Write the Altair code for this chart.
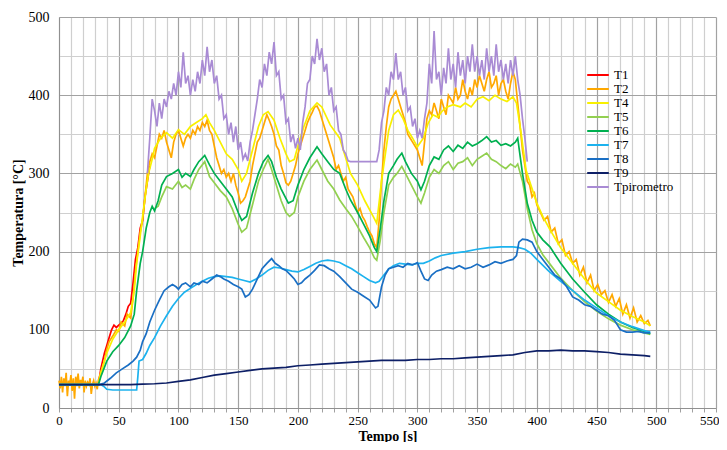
import altair as alt
import pandas as pd

# ---------------- data ----------------
SERIES = ["T1", "T2", "T4", "T5", "T6", "T7", "T8", "T9", "Tpirometro"]
COLORS = ["#FF0000", "#FFA800", "#F8F000", "#92D050", "#00B050",
          "#1CB2EE", "#1A6FC4", "#0D1F66", "#A98BD4"]

t1_t = [0, 33, 35, 38, 40, 42, 44, 46, 48, 50, 52, 54, 56, 58, 60, 62, 64, 66, 68, 70, 72, 74, 76]
t1_v = [30, 30, 50, 70, 80, 90, 100, 106, 103, 106, 108, 112, 120, 130, 134, 160, 190, 205, 230, 240, 270, 290, 310]

t2_t = list(range(0, 34)) + [35, 38, 40, 42, 45, 48, 50, 52, 55, 57, 60, 62, 64, 66, 68, 70, 72, 74, 76, 78,
       80, 82, 84, 86, 88, 90, 92, 94, 96, 98, 100, 102, 104, 106, 108, 110, 112, 114, 116, 118,
       120, 122, 124, 126, 128, 130, 132, 134, 136, 138, 140, 142, 144, 146, 148, 150, 152, 154, 156, 158,
       160, 162, 164, 166, 168, 170, 172, 174, 176, 178, 180, 182, 184, 186, 188, 190, 192, 194, 196, 198,
       200, 202, 204, 206, 208, 210, 212, 214, 216, 218, 220, 222, 224, 226, 228, 230, 232, 234, 236, 238,
       240, 242, 244, 246, 248, 250, 252, 254, 256, 258, 260, 262, 264, 266, 268, 270, 272, 274, 276, 278,
       280, 282, 284, 286, 288, 290, 292, 294, 296, 298, 300, 302, 304, 306, 308, 310, 312, 314, 316, 318,
       320, 322, 324, 326, 328, 330, 332, 334, 336, 338, 340, 342, 344, 346, 348, 350, 352, 354, 356, 358,
       360, 362, 364, 366, 368, 370, 372, 374, 376, 378, 380, 382, 384, 386, 388, 390, 392, 394, 396, 398,
       400, 403, 406, 409, 412, 415, 418, 421, 424, 427, 430, 433, 436, 439, 442, 445, 448, 451, 454, 457,
       460, 463, 466, 469, 472, 475, 478, 481, 484, 487, 490, 493, 495]
t2_v = [35, 25, 40, 20, 38, 28, 45, 15, 35, 30, 42, 22, 38, 12, 40, 28, 44, 25, 36, 30, 40, 20, 35, 28,
        33, 30, 38, 18, 30, 35, 28, 32, 24, 36] + [45, 60, 75, 85, 92, 100, 98, 110, 105, 120, 115, 140, 175, 200, 225, 240, 270, 300, 315, 325,
        320, 335, 350, 345, 355, 340, 330, 320, 340, 350, 355, 345, 335, 345, 350, 345, 355, 350, 360, 355,
        365, 360, 368, 355, 350, 335, 320, 310, 300, 305, 295, 300, 290, 300, 285, 275, 262, 265, 270, 280,
        290, 310, 325, 340, 345, 355, 365, 375, 368, 360, 350, 335, 330, 310, 300, 288, 285, 290, 300, 310,
        325, 335, 345, 355, 365, 372, 378, 385, 386, 380, 370, 360, 350, 340, 330, 320, 305, 310, 300, 290,
        295, 280, 275, 270, 260, 250, 255, 245, 240, 232, 225, 220, 210, 205, 240, 290, 330, 360, 385, 395,
        400, 405, 395, 385, 375, 365, 350, 345, 340, 335, 330, 320, 310, 340, 370, 380, 375, 390, 380, 370,
        395, 385, 375, 400, 395, 390, 410, 395, 400, 420, 405, 395, 410, 400, 420, 410, 425, 415, 405, 420,
        430, 410, 415, 425, 400, 415, 420, 405, 395, 415, 430, 420, 390, 360, 330, 310, 290, 285, 270, 275,
        260, 250, 240, 245, 225, 230, 210, 215, 195, 200, 185, 190, 170, 180, 160, 170, 150, 158, 145, 150,
        135, 145, 130, 140, 120, 132, 115, 128, 110, 118, 108, 112, 105]

t4_t = [0, 33, 35, 40, 45, 50, 55, 60, 63, 65, 68, 70, 73, 75, 78, 80, 85, 90, 95, 100, 105, 110, 115, 120,
        123, 126, 130, 135, 140, 145, 150, 153, 157, 162, 167, 171, 175, 180, 185, 190, 193, 197, 200, 205,
        210, 216, 220, 227, 235, 244, 250, 256, 263, 266, 270, 276, 280, 284, 288, 292, 296, 300, 305, 309,
        313, 317, 321, 325, 330, 336, 340, 345, 350, 355, 360, 365, 370, 375, 380, 383, 387, 391, 395, 400,
        405, 411, 420, 430, 440, 450, 460, 470, 480, 490, 495]
t4_v = [30, 30, 45, 70, 88, 100, 110, 122, 150, 185, 220, 245, 280, 300, 318, 332, 345, 352, 345, 356, 350,
        360, 365, 370, 375, 365, 355, 340, 325, 318, 305, 290, 300, 330, 360, 375, 379, 368, 345, 325, 315,
        318, 335, 360, 380, 390, 385, 362, 345, 300, 285, 265, 245, 236, 290, 355, 375, 381, 370, 355, 345,
        334, 345, 364, 375, 372, 380, 385, 388, 385, 390, 385, 395, 398, 393, 400, 395, 392, 398, 390, 350,
        304, 285, 262, 245, 228, 205, 185, 165, 147, 136, 125, 117, 110, 105]

t5_t = [80, 83, 86, 90, 95, 100, 103, 106, 110, 113, 117, 122, 126, 130, 135, 140, 145, 150, 153, 157,
        162, 167, 171, 175, 178, 182, 186, 190, 193, 197, 200, 205, 210, 216, 220, 225, 230, 235, 240, 245,
        250, 255, 260, 264, 266, 269, 272, 276, 280, 283, 287, 290, 295, 300, 303, 306, 310, 314, 318, 322,
        326, 330, 334, 338, 342, 346, 350, 354, 358, 362, 366, 370, 374, 378, 382, 384, 388, 392, 396, 400,
        405, 411, 420, 430, 440, 450, 460, 470, 480, 490, 495]
t5_v = [255, 258, 270, 283, 280, 290, 282, 285, 280, 292, 305, 315, 296, 288, 278, 270, 255, 235, 225, 230,
        260, 290, 305, 318, 305, 285, 265, 250, 245, 250, 270, 290, 305, 317, 305, 290, 280, 266, 255, 245,
        232, 218, 205, 192, 189, 215, 250, 285, 295, 300, 309, 300, 285, 270, 262, 275, 295, 305, 300, 310,
        315, 305, 313, 315, 320, 310, 318, 322, 326, 318, 315, 310, 306, 312, 308, 312, 290, 255, 228, 210,
        196, 184, 166, 150, 136, 124, 114, 106, 100, 96, 94]

t6_t = [0, 33, 35, 40, 45, 50, 55, 60, 63, 65, 68, 70, 73, 76, 78, 80, 83, 86, 90, 95, 100, 103, 106, 110,
        113, 117, 122, 126, 130, 135, 140, 145, 150, 153, 157, 162, 167, 171, 175, 178, 182, 186, 192, 196,
        200, 205, 210, 216, 220, 225, 230, 235, 240, 244, 250, 255, 260, 264, 266, 269, 272, 276, 280, 283,
        287, 290, 295, 300, 303, 306, 310, 314, 318, 322, 326, 330, 334, 338, 342, 346, 350, 354, 358, 362,
        366, 370, 374, 378, 382, 384, 388, 392, 396, 400, 405, 411, 420, 430, 440, 450, 460, 470, 480, 490, 495]
t6_v = [30, 30, 40, 60, 72, 80, 90, 105, 120, 150, 185, 200, 230, 250, 258, 252, 265, 285, 296, 300, 305,
        295, 300, 296, 305, 315, 323, 311, 300, 290, 280, 270, 250, 240, 245, 275, 300, 315, 323, 315, 295,
        280, 262, 265, 285, 305, 320, 334, 325, 315, 305, 300, 280, 266, 250, 235, 220, 205, 200, 230, 265,
        300, 310, 318, 326, 315, 300, 290, 279, 290, 310, 321, 318, 330, 335, 328, 336, 332, 340, 335, 338,
        342, 347, 340, 342, 336, 338, 335, 340, 345, 300, 262, 240, 225, 215, 206, 185, 165, 148, 132, 120,
        110, 103, 98, 95]

t7_t = [0, 35, 38, 40, 45, 50, 55, 60, 65, 66, 67, 70, 73, 76, 80, 85, 90, 95, 100, 105, 110, 115, 120, 125,
        130, 135, 140, 145, 150, 155, 160, 165, 170, 175, 180, 185, 190, 195, 200, 205, 210, 215, 220, 225,
        230, 235, 240, 245, 250, 255, 260, 265, 268, 272, 276, 280, 285, 290, 295, 300, 305, 310, 315, 320,
        330, 340, 350, 360, 370, 380, 385, 390, 395, 400, 410, 420, 430, 440, 450, 460, 470, 480, 490, 495]
t7_v = [30, 30, 27, 24, 23, 23, 23, 23, 23, 40, 60, 62, 70, 80, 90, 105, 118, 130, 140, 148, 153, 158, 162,
        166, 168, 169, 168, 167, 165, 163, 161, 165, 170, 176, 180, 179, 177, 175, 174, 177, 181, 185, 188,
        189, 188, 186, 182, 178, 173, 168, 163, 160, 162, 170, 178, 182, 185, 184, 183, 185, 185, 188, 192,
        195, 198, 200, 203, 205, 206, 206, 205, 203, 198, 190, 175, 162, 150, 138, 128, 118, 110, 104, 99, 97]

t8_t = [0, 34, 38, 43, 48, 53, 58, 62, 65, 68, 70, 73, 76, 80, 84, 88, 92, 95, 98, 100, 103, 106, 110, 113,
        117, 120, 124, 128, 132, 135, 138, 142, 146, 150, 153, 156, 159, 162, 166, 170, 174, 178, 181, 184,
        187, 190, 194, 197, 200, 203, 206, 210, 214, 218, 222, 226, 230, 235, 240, 245, 250, 255, 260, 265,
        267, 270, 273, 276, 280, 284, 288, 292, 296, 300, 303, 306, 309, 312, 316, 320, 325, 330, 335, 340,
        345, 350, 355, 360, 365, 370, 375, 380, 383, 385, 388, 392, 396, 400, 405, 410, 415, 420, 425, 430,
        435, 440, 445, 450, 455, 460, 465, 470, 475, 480, 485, 490, 495]
t8_v = [30, 30, 32, 38, 45, 50, 55, 60, 65, 74, 85, 95, 110, 125, 138, 150, 155, 158, 155, 152, 158, 160,
        155, 160, 158, 162, 160, 165, 170, 168, 165, 162, 158, 155, 152, 142, 145, 152, 165, 178, 185, 191,
        185, 182, 178, 176, 170, 165, 158, 160, 165, 170, 176, 183, 182, 178, 175, 168, 160, 152, 148, 143,
        138, 128, 130, 155, 170, 178, 180, 182, 180, 185, 183, 186, 175, 165, 163, 170, 175, 177, 180, 178,
        182, 178, 180, 184, 180, 183, 187, 185, 188, 190, 195, 212, 216, 215, 212, 200, 190, 180, 170, 165,
        155, 142, 138, 132, 130, 125, 120, 118, 112, 100, 97, 97, 98, 96, 96]

t9_t = [0, 60, 70, 80, 90, 100, 110, 120, 130, 140, 150, 160, 170, 180, 190, 200, 210, 220, 230, 240, 250,
        260, 270, 280, 290, 300, 310, 320, 330, 340, 350, 360, 370, 380, 390, 400, 410, 420, 430, 440, 450,
        460, 470, 480, 490, 495]
t9_v = [30, 30, 30.5, 31, 32, 34, 36, 39, 42, 44, 46, 48, 50, 51, 52, 54, 55, 56, 57, 58, 59, 60, 61, 61,
        61, 62, 62, 63, 63, 64, 65, 66, 67, 68, 71, 73, 73, 74, 73, 73, 72, 71, 69, 68, 67, 66]

tp_t = list(range(74, 394, 2))
tp_v = [300, 345, 395, 380, 360, 390, 370, 395, 385, 405, 395, 415, 400, 430, 410, 455, 415, 425, 400, 420,
        405, 430, 415, 445, 425, 462, 430, 445, 415, 425, 395, 400, 370, 375, 350, 365, 340, 360, 330, 340,
        318, 325, 316, 340, 355, 375, 395, 420, 410, 440, 425, 455, 440, 468, 425, 430, 395, 400, 365, 370,
        340, 350, 332, 345, 330, 365, 385, 415, 420, 450, 440, 472, 445, 460, 430, 440, 400, 410, 380, 385,
        355, 350, 330, 325, 316, 315, 315, 315, 315, 315, 315, 315, 315, 315, 315, 315, 315, 330, 365, 380,
        410, 400, 430, 420, 454, 420, 430, 400, 410, 380, 385, 360, 370, 345, 355, 345, 370, 390, 440, 415,
        482, 420, 430, 400, 435, 415, 460, 420, 440, 410, 455, 425, 445, 415, 450, 430, 465, 430, 450, 425,
        445, 420, 460, 430, 450, 425, 465, 430, 445, 420, 440, 415, 445, 425, 450, 420, 400, 370, 345, 315]

# ---------------- table ----------------
pairs = [(t1_t, t1_v), (t2_t, t2_v), (t4_t, t4_v), (t5_t, t5_v), (t6_t, t6_v),
         (t7_t, t7_v), (t8_t, t8_v), (t9_t, t9_v), (tp_t, tp_v)]
rows = []
for name, (ts, vs) in zip(SERIES, pairs):
    for t, v in zip(ts, vs):
        rows.append({"serie": name, "t": t, "T": v})
df = pd.DataFrame(rows)

FONT = "Times New Roman, Liberation Serif, serif"

x_axis = alt.Axis(
    values=list(range(0, 551, 10)),
    labelExpr="datum.value % 50 === 0 ? datum.label : ''",
    title="Tempo [s]",
    titleFont=FONT, titleFontSize=14, titleFontWeight="bold", titleColor="black",
    titleBaseline="alphabetic", titleY=32,
    labelFont=FONT, labelFontSize=13, labelColor="black", labelPadding=2,
    labelFlush=False, labelOverlap=False,
    labelAlign={"condition": {"test": "datum.value === 550", "value": "right"}, "value": "center"},
    labelOffset={"condition": {"test": "datum.value === 550", "value": 3}, "value": 0},
    tickSize=4, tickColor="#a0a0a0",
    domainColor="#909090",
    gridColor={"condition": {"test": "datum.value % 50 === 0", "value": "#a2a2a2"}, "value": "#cfcfcf"},
    gridWidth=1.2,
)
y_axis = alt.Axis(
    values=list(range(0, 501, 50)),
    labelExpr="datum.value % 100 === 0 ? datum.label : ''",
    title="Temperatura [°C]",
    titleFont=FONT, titleFontSize=14, titleFontWeight="bold", titleColor="black",
    titlePadding=3,
    labelFont=FONT, labelFontSize=14, labelColor="black", labelPadding=10,
    labelFlush=False, labelOverlap=False,
    ticks=False,
    domainColor="#909090",
    gridColor={"condition": {"test": "datum.value % 100 === 0", "value": "#a2a2a2"}, "value": "#cfcfcf"},
    gridWidth=1.2,
)

chart = alt.Chart(df).mark_line(strokeWidth=1.7, interpolate="linear").encode(
    x=alt.X("t:Q", scale=alt.Scale(domain=[0, 550], nice=False), axis=x_axis),
    y=alt.Y("T:Q", scale=alt.Scale(domain=[0, 500], nice=False), axis=y_axis),
    color=alt.Color(
        "serie:N",
        scale=alt.Scale(domain=SERIES, range=COLORS),
        legend=alt.Legend(
            orient="none", legendX=532, legendY=51, title=None,
            symbolType="M-1.8,0L1.8,0", symbolSize=144, symbolStrokeWidth=2,
            labelFont=FONT, labelFontSize=13, labelColor="black",
            rowPadding=0, labelOffset=9, padding=0,
        ),
    ),
    order=alt.Order("t:Q"),
).properties(
    width=657, height=391,
    autosize=alt.AutoSizeParams(type="none"),
    padding={"left": 51, "top": 9, "right": 3, "bottom": 34},
).configure_view(stroke=None)

chart.save("out.html", embed_options={"renderer": "svg", "actions": False})
